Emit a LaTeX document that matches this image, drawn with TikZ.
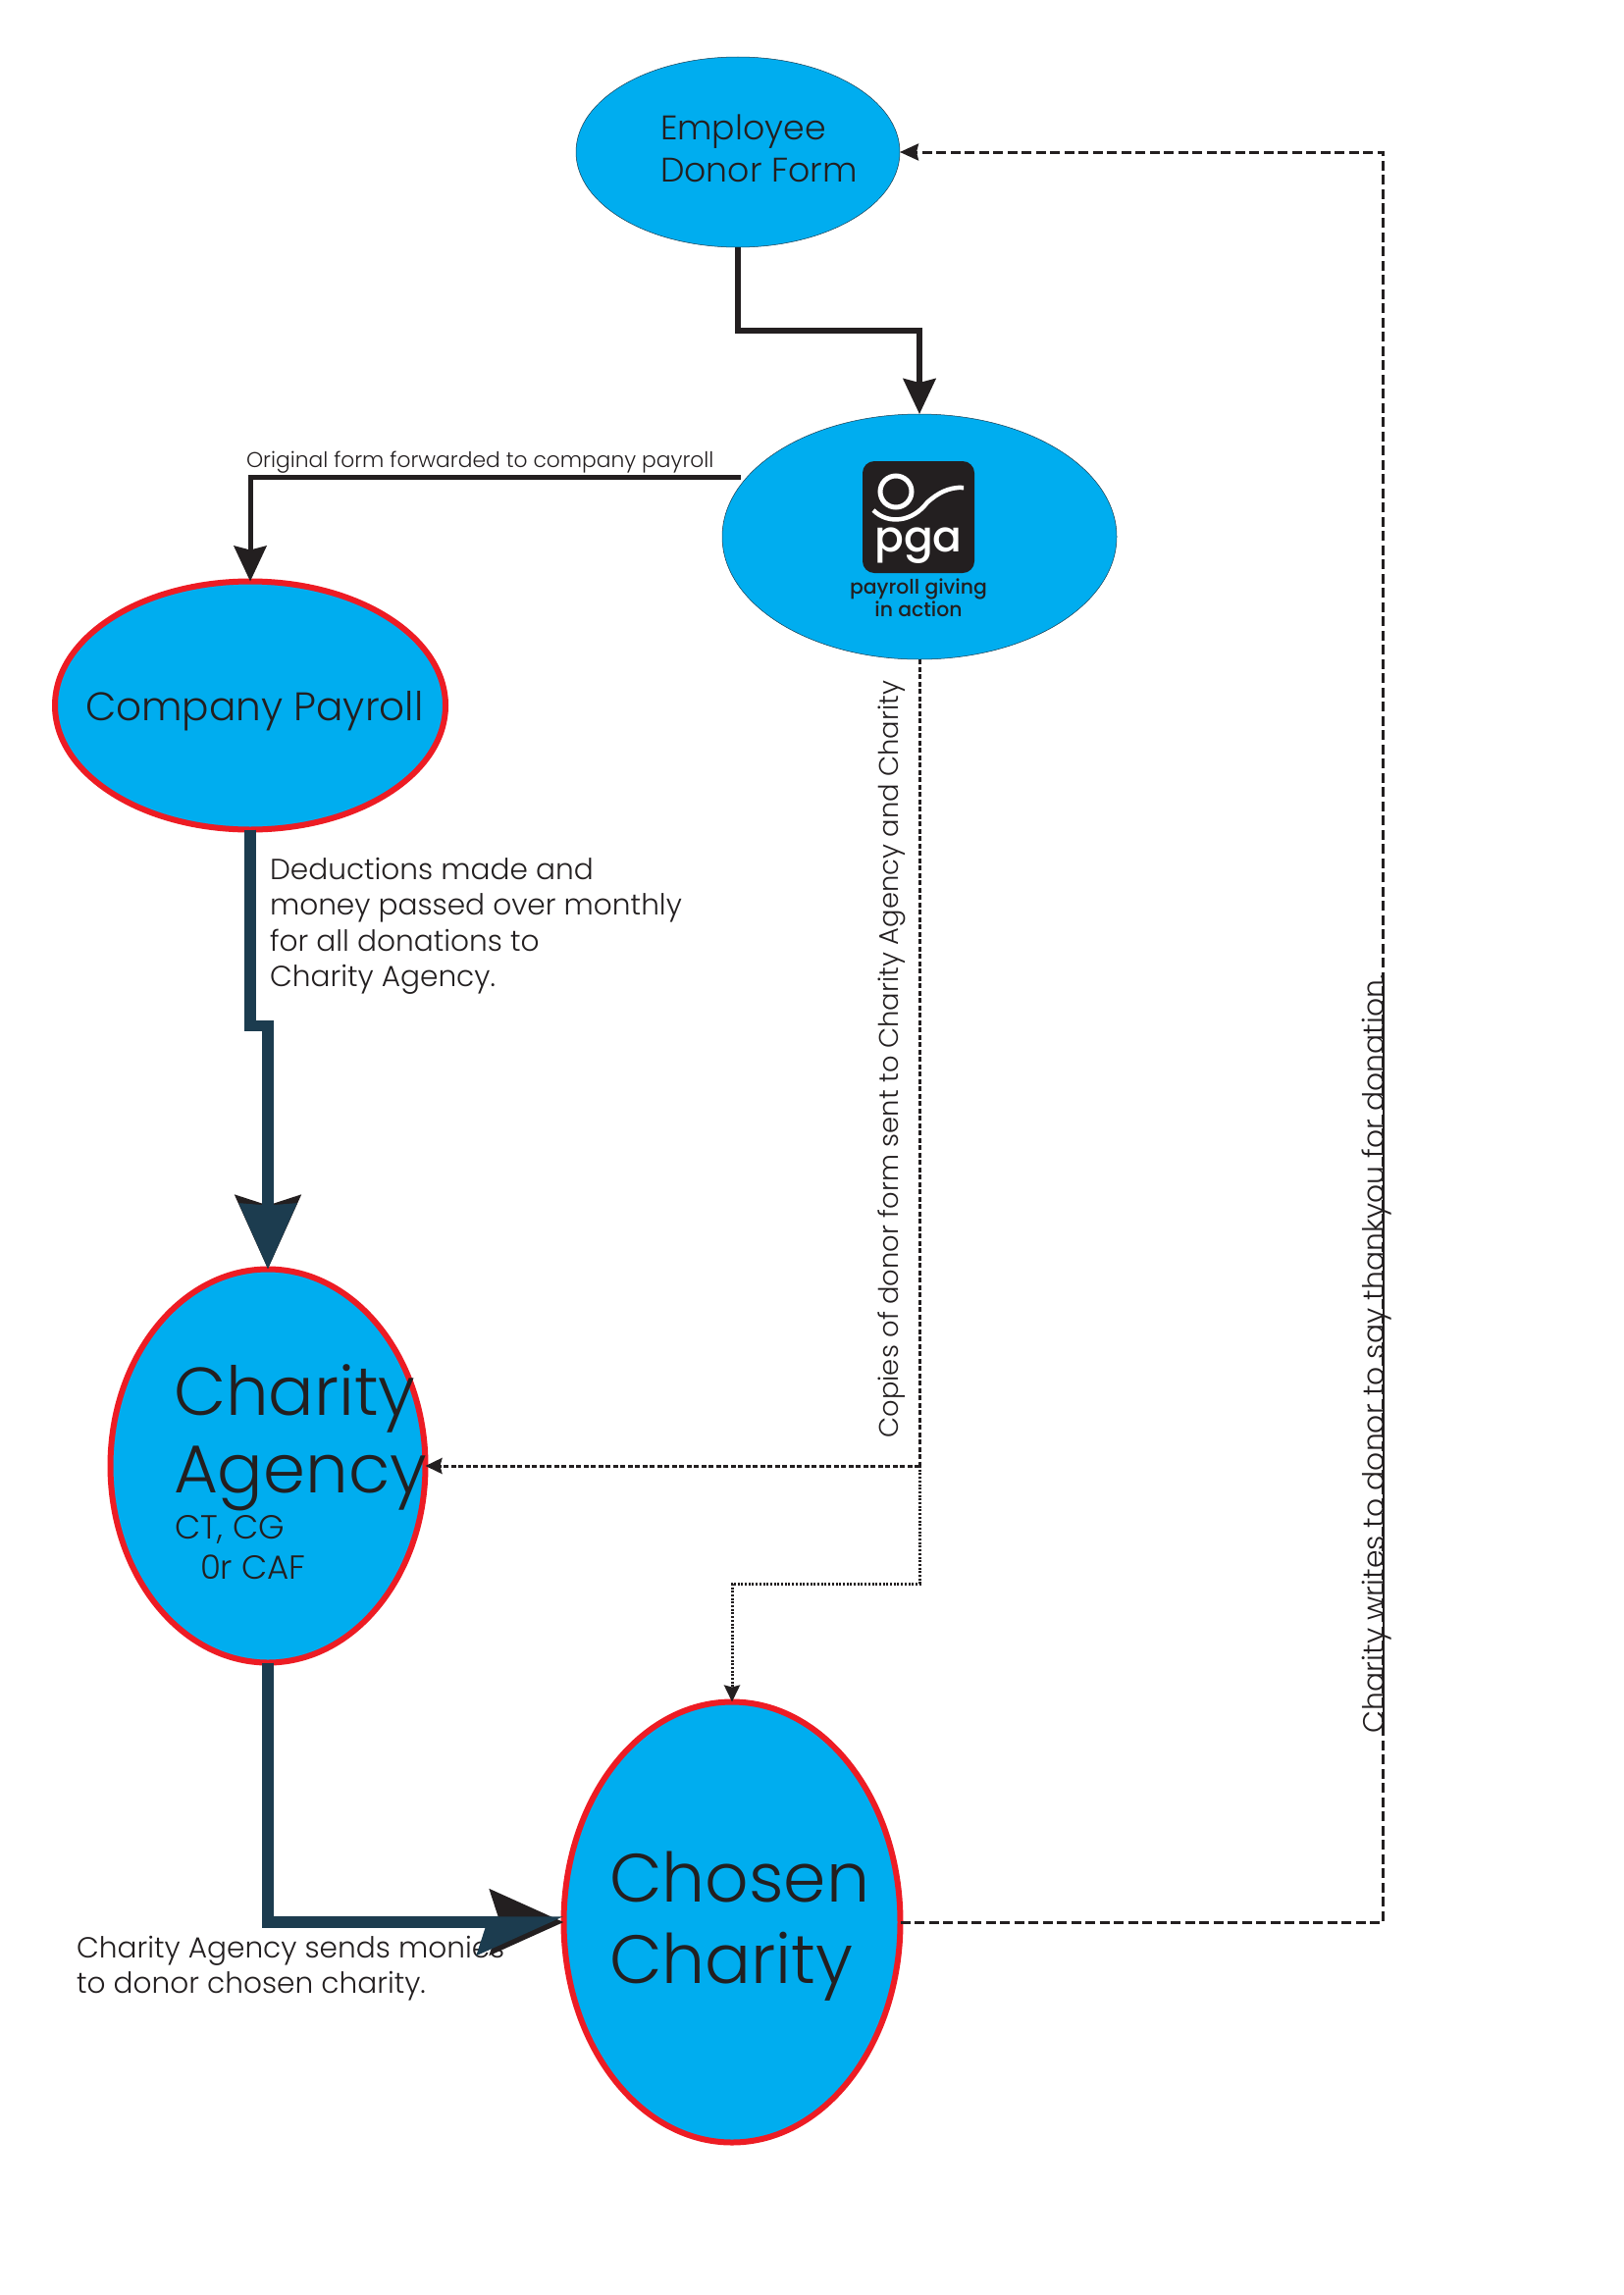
\documentclass[tikz,border=0pt]{standalone}
\usepackage{fontspec}
\usepackage{xcolor}
\usepackage{tikz}
\usetikzlibrary{shapes.geometric,arrows.meta}
\setmainfont{Poppins}[UprightFont=* Light,BoldFont=* Medium]
\definecolor{flowblue}{HTML}{00ADEF}
\definecolor{flowred}{HTML}{ED1C24}
\definecolor{flowdark}{HTML}{1C3C4F}
\definecolor{flowink}{HTML}{231F20}

\begin{document}
\begin{tikzpicture}
[
    x = 1pt, y = -1pt,
    every node/.style = {inner sep = 0pt, outer sep = 0pt, text = flowink},
    plainoval/.style = {ellipse, fill = flowblue, draw = flowdark, line width = 0.5pt},
    redoval/.style = {ellipse, fill = flowblue, draw = flowred, line width = 6pt},
    caption/.style = {anchor = base west, align = left},
    side/.style = {anchor = base west, rotate = 90},
    formline/.style = {flowink, line width = 5.5pt, -{Stealth[length = 36pt, width = 33pt, inset = 4pt]}},
    moneyback/.style = {flowink, line width = 11.5pt, -{Stealth[length = 75pt, width = 66pt, inset = 10pt]}},
    moneyline/.style = {flowdark, line width = 11.5pt, -{Stealth[length = 66pt, width = 56pt, inset = 1pt]}},
    moneyhalf/.style = {flowdark, line width = 11.5pt, -{Stealth[length = 75pt, width = 66pt, inset = 10pt, harpoon, swap]}},
    thanksline/.style = {flowink, line width = 3pt, dash pattern = on 10pt off 4.5pt, -{Stealth[length = 19pt, width = 17pt, inset = 2pt]}},
    copyline/.style = {flowink, line width = 3pt, dash pattern = on 5pt off 2.5pt, -{Stealth[length = 17pt, width = 16pt, inset = 2pt]}},
    dotline/.style = {flowink, line width = 3pt, dash pattern = on 2pt off 1.7pt, -{Stealth[length = 17pt, width = 16pt, inset = 2pt]}},
]
    \useasboundingbox (0,0) rectangle (1654,2339);

    \node[plainoval, minimum width = 330pt, minimum height = 194pt] (employee) at (752,155) {};
    \node[plainoval, minimum width = 402pt, minimum height = 250pt] (pga) at (937,547) {};
    \node[redoval, minimum width = 398pt, minimum height = 253pt] (payroll) at (255,719) {};
    \node[redoval, minimum width = 321pt, minimum height = 401pt] (agency) at (273,1494) {};
    \node[redoval, minimum width = 343pt, minimum height = 449pt] (chosen) at (746,1959) {};

    \node[caption, font = \fontsize{29.6}{36}\selectfont] (sendtext) at (78,2031) {Charity Agency sends monies\\to donor chosen charity.};
    \node[side, font = \fontsize{29.8}{30}\selectfont] (thankstext) at (1410,1766) {Charity writes to donor to say thankyou for donation.};

    \coordinate (formjog) at (937,337);
    \coordinate (forwardstart) at (755,486);
    \coordinate (moneyjog) at (273,1045.5);
    \coordinate (copyjoin) at (937,1494);
    \coordinate (copydrop) at (937,1614);
    \coordinate (thankscorner) at (1409,1000);

    \draw[formline] (employee.south) |- (formjog) -- (pga.north);
    \draw[formline, line width = 5pt] (forwardstart) -| (payroll.north);
    \draw[moneyback] (payroll.south) |- (moneyjog) -- (agency.north);
    \draw[moneyline] (payroll.south) |- (moneyjog) -- (agency.north);
    \draw[moneyback] (agency.south) |- (chosen.west);
    \draw[moneyhalf] (agency.south) |- (chosen.west);
    \draw[thanksline] (chosen.east) -| (thankscorner) |- (employee.east);
    \draw[flowink, line width = 1.8pt] (thankstext.base west) -- (thankstext.base east);
    \draw[copyline, -] (pga.south) -- (copyjoin);
    \draw[copyline] (copyjoin) -- (agency.east);
    \draw[dotline] (copyjoin) -- (copydrop) -| (chosen.north);

    \node[fill = flowink, rounded corners = 12pt, minimum size = 114pt] (logobox) at (936,527) {};
    \node[circle, draw = white, line width = 5pt, minimum size = 32pt] (logoring) at (913,501) {};
    \draw[white, line width = 4.5pt] (890,520) .. controls (905,535) and (930,532) .. (945,512)
        .. controls (955,503) and (967,496) .. (982,497);
    \node[anchor = base, text = white, font = \fontsize{44}{44}\selectfont\bfseries] (logotext) at (936,562) {pga};
    \node[anchor = base, align = center, font = \fontsize{20.4}{20}\selectfont\bfseries] (logoname) at (936,628) {payroll giving\\in action};

    \node[caption, font = \fontsize{34.7}{43}\selectfont] (employeetext) at (673,185) {Employee\\Donor Form};
    \node[caption, font = \fontsize{40.6}{41}\selectfont] (payrolltext) at (87,734) {Company Payroll};
    \node[caption, font = \fontsize{69}{79}\selectfont] (agencytext) at (177,1521) {Charity\\Agency};
    \node[caption, font = \fontsize{34}{34}\selectfont] (agencykinds) at (178,1568) {CT, CG};
    \node[caption, font = \fontsize{34}{34}\selectfont] (agencykindsb) at (204,1609) {0r CAF};
    \node[caption, font = \fontsize{69.6}{83}\selectfont] (chosentext) at (621,2021) {Chosen\\Charity};

    \node[caption, font = \fontsize{21.8}{24}\selectfont] (forwardtext) at (251,476) {Original form forwarded to company payroll};
    \node[caption, font = \fontsize{29.6}{36.5}\selectfont] (deducttext) at (275,1005.5) {Deductions made and\\money passed over monthly\\for all donations to\\Charity Agency.};
    \node[side, font = \fontsize{27.4}{30}\selectfont] (copytext) at (915.5,1465.5) {Copies of donor form sent to Charity Agency and Charity};
\end{tikzpicture}
\end{document}
